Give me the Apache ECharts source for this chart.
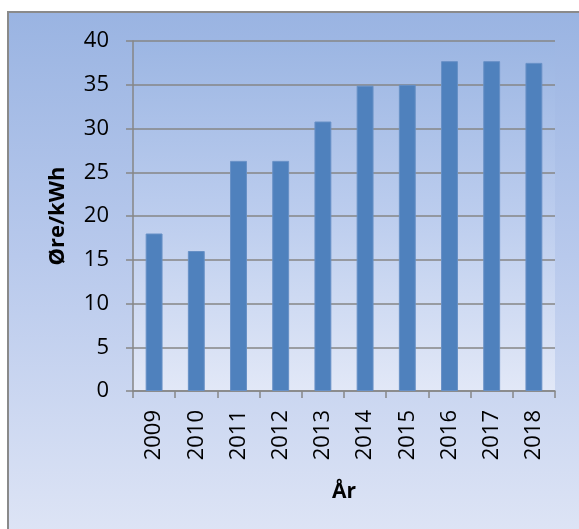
<!DOCTYPE html>
<html>
<head>
<meta charset="utf-8">
<script src="https://cdn.jsdelivr.net/npm/echarts@6/dist/echarts.min.js"></script>
<style>
html,body{margin:0;padding:0;width:579px;height:529px;background:#fff;overflow:hidden;}
#frame{position:absolute;left:7px;top:11px;width:600px;height:540px;border-top:2px solid #8a8a8a;border-left:2px solid #8a8a8a;
background:linear-gradient(to bottom,#9ab4e2 0%,#b8c9ec 45%,#e0e6f6 100%);}
#chart{position:absolute;left:0;top:0;width:579px;height:529px;}
</style>
</head>
<body>
<div id="frame"></div>
<div id="chart"></div>
<script>
const categories = ['2009','2010','2011','2012','2013','2014','2015','2016','2017','2018'];
const values = [18.0, 16.0, 26.3, 26.3, 30.8, 34.9, 35.0, 37.7, 37.7, 37.5];
const yTicks = [0, 5, 10, 15, 20, 25, 30, 35, 40];

const chart = echarts.init(document.getElementById('chart'), null, {renderer:'canvas'});
const gridColor = '#868686';
chart.setOption({
  backgroundColor: 'transparent',
  animation: false,
  textStyle: {fontFamily: '"Open Sans", sans-serif'},
  grid: {
    left: 133, right: 24, top: 41, bottom: 138, containLabel: false,
    show: true, borderWidth: 0,
    backgroundColor: new echarts.graphic.LinearGradient(0,0,0,1,[
      {offset:0,color:'#9cb6e3'},{offset:0.5,color:'#bccdee'},{offset:1,color:'#e2e8f7'}])
  },
  xAxis: {
    type: 'category',
    data: categories,
    name: 'År',
    nameLocation: 'middle',
    nameGap: 91,
    nameTextStyle: {fontSize: 21, fontWeight: 'bold', color: '#000', fontFamily: '"Open Sans", sans-serif'},
    axisLine: {lineStyle: {color: gridColor, width: 1.5}},
    axisTick: {show: true, length: 7, alignWithLabel: false, lineStyle: {color: gridColor, width: 1.5}},
    axisLabel: {rotate: 90, fontSize: 22, color: '#000', margin: 19, interval: 0}
  },
  yAxis: {
    type: 'value',
    min: yTicks[0], max: yTicks[yTicks.length-1], interval: 5,
    name: 'Øre/kWh',
    nameLocation: 'middle',
    nameGap: 64,
    nameRotate: 90,
    nameTextStyle: {fontSize: 22, fontWeight: 'bold', color: '#000', fontFamily: '"Open Sans", sans-serif'},
    axisLine: {show: true, lineStyle: {color: gridColor, width: 1.5}},
    axisTick: {show: true, length: 7, lineStyle: {color: gridColor, width: 1.5}},
    splitLine: {show: true, lineStyle: {color: gridColor, width: 1.5}},
    axisLabel: {fontSize: 22, color: '#000', margin: 24}
  },
  series: [{
    type: 'bar',
    data: values,
    barWidth: '40%',
    itemStyle: {color: '#4f81bd', borderColor: '#6790c6', borderWidth: 1}
  }]
});
</script>
</body>
</html>
